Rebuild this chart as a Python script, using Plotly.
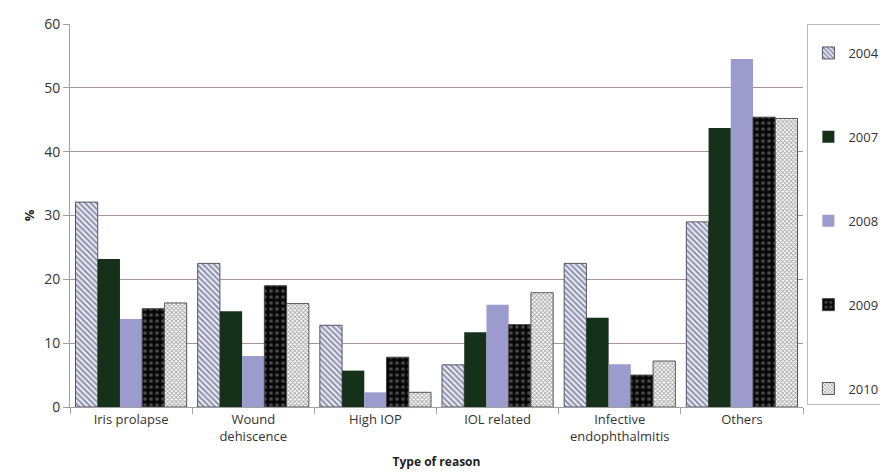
import plotly.graph_objects as go

# categories and values
categories = ["Iris prolapse", "Wound<br>dehiscence", "High IOP", "IOL related",
              "Infective<br>endophthalmitis", "Others"]
years = ["2004", "2007", "2008", "2009", "2010"]
pct_2004 = [32.1, 22.5, 12.8, 6.6, 22.5, 29.0]
pct_2007 = [23.2, 15.0, 5.7, 11.7, 14.0, 43.7]
pct_2008 = [13.8, 8.0, 2.3, 16.0, 6.7, 54.5]
pct_2009 = [15.4, 19.0, 7.8, 12.9, 5.0, 45.4]
pct_2010 = [16.3, 16.2, 2.3, 17.9, 7.2, 45.2]
series = [pct_2004, pct_2007, pct_2008, pct_2009, pct_2010]

styles = [
    dict(color="#eeeef5", pattern=dict(shape="\\", fgcolor="#2a3262", bgcolor="#eeeef5",
                                      size=4, solidity=0.5),
         line=dict(color="#555566", width=1)),
    dict(color="#163119", line=dict(width=0)),
    dict(color="#9b9bcd", line=dict(width=0)),
    dict(color="#080808", pattern=dict(shape=".", fgcolor="#8a8a8a", bgcolor="#080808",
                                      size=6, solidity=0.3),
         line=dict(color="#444444", width=1)),
    dict(color="#ffffff", pattern=dict(shape="x", fgcolor="#4a4a4a", bgcolor="#ffffff",
                                      size=3, solidity=0.5),
         line=dict(color="#555555", width=1)),
]

fig = go.Figure()
for yr, vals, st in zip(years, series, styles):
    fig.add_trace(go.Bar(x=categories, y=vals, name=yr, marker=st, legendgroup=yr))

font = "'Open Sans', Lato, sans-serif"
fig.update_layout(
    width=888, height=474,
    barmode="group", bargap=0.09, bargroupgap=0,
    plot_bgcolor="white", paper_bgcolor="white",
    margin=dict(l=62, r=93, t=16, b=75, autoexpand=False),
    font=dict(family=font, size=13, color="#333333"),
    legend=dict(x=1.006, xanchor="left", y=1.0, yanchor="top",
                bordercolor="#bbbbbb", borderwidth=1, bgcolor="white",
                tracegroupgap=64, itemwidth=30, font=dict(size=13, color="#333333"),
                title=dict(text=" ", font=dict(size=10))),
    xaxis=dict(title=dict(text="<b>Type of reason</b>", font=dict(size=12, color="#222"),
                          standoff=14),
               showline=True, linecolor="#a0a0a0", ticks="outside", tickson="boundaries",
               ticklen=6, tickcolor="#a0a0a0", tickfont=dict(size=13, color="#333")),
    yaxis=dict(title=dict(text="<b>%</b>", font=dict(size=13, color="#222"), standoff=6),
               range=[0, 60], dtick=10, showline=True, linecolor="#a0a0a0",
               ticks="outside", ticklen=6, tickcolor="#a0a0a0",
               showgrid=True, gridcolor="#a89494", gridwidth=1,
               tickfont=dict(size=14, color="#333"), zeroline=False),
)

fig.write_html("out.html")
